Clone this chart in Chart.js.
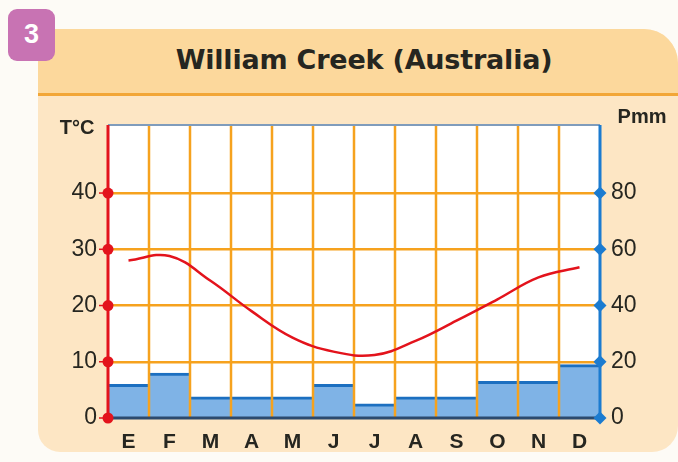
<!DOCTYPE html>
<html><head><meta charset="utf-8">
<script src="https://cdn.jsdelivr.net/npm/chart.js@4"></script>
<style>
html,body{margin:0;padding:0;width:678px;height:462px;overflow:hidden;background:#fdfbf6;font-family:'Liberation Sans',Arial,sans-serif;}
#card{position:absolute;left:38px;top:29px;width:640px;height:423px;background:#fde6c4;border-radius:16px 34px 26px 22px;overflow:hidden;}
#band{position:absolute;left:0;top:0;right:0;height:64px;background:#fcd89c;border-bottom:3px solid #f2a637;}
#title{position:absolute;left:38px;width:652px;top:44px;text-align:center;font-family:'DejaVu Sans',sans-serif;font-weight:bold;font-size:27px;color:#262620;letter-spacing:-0.2px;}
#badge{position:absolute;left:8px;top:9px;width:47px;height:52px;background:#c873b3;border-radius:9px;color:#fff;font-weight:bold;font-size:27px;text-align:center;line-height:50px;}
#c{position:absolute;left:0;top:0;}
</style></head>
<body>
<div id="card"><div id="band"></div></div>
<div id="title">William Creek (Australia)</div>
<div id="badge">3</div>
<canvas id="c" width="678" height="462"></canvas>
<script>
const months = ['E','F','M','A','M','J','J','A','S','O','N','D'];
const temperature = [28, 28.8, 24.4, 19, 14.3, 11.8, 11.2, 13.7, 17.3, 21.1, 25, 26.8];
const precipitation = [12, 16, 7.5, 7.5, 7.5, 12, 5, 7.5, 7.5, 13, 13, 19];
const tempTicks = [0, 10, 20, 30, 40];
const precipTicks = [0, 20, 40, 60, 80];
const tempMax = 52.1;
const precipMax = 104.2;

const ORANGE = '#f6a21e';
const RED = '#e3131c';
const BLUE = '#1b7bd0';
const tickFont = {family: "'Liberation Sans', Arial, sans-serif", size: 23};

const framePlugin = {
  id: 'frame',
  beforeDraw(chart) {
    const ctx = chart.ctx, a = chart.chartArea;
    ctx.save();
    ctx.fillStyle = '#ffffff';
    ctx.fillRect(a.left, a.top, a.right - a.left, a.bottom - a.top);
    ctx.restore();
  },
  afterDatasetDraw(chart, args) {
    if (args.index !== 0) return;
    const ctx = chart.ctx, a = chart.chartArea, xs = chart.scales.x;
    ctx.save();
    ctx.strokeStyle = ORANGE;
    ctx.lineWidth = 2.5;
    for (let i = 1; i < months.length; i++) {
      const x = (xs.getPixelForValue(i - 1) + xs.getPixelForValue(i)) / 2;
      ctx.beginPath(); ctx.moveTo(x, a.top); ctx.lineTo(x, a.bottom); ctx.stroke();
    }
    ctx.restore();
  },
  afterDraw(chart) {
    const ctx = chart.ctx, a = chart.chartArea;
    const yT = chart.scales.y, yP = chart.scales.y1;
    ctx.save();
    ctx.strokeStyle = '#7f9cbc'; ctx.lineWidth = 2;
    ctx.beginPath(); ctx.moveTo(a.left, a.top); ctx.lineTo(a.right, a.top); ctx.stroke();
    ctx.strokeStyle = '#2c4a6e'; ctx.lineWidth = 3;
    ctx.beginPath(); ctx.moveTo(a.left, a.bottom); ctx.lineTo(a.right, a.bottom); ctx.stroke();
    ctx.strokeStyle = RED; ctx.lineWidth = 3;
    ctx.beginPath(); ctx.moveTo(a.left, a.top); ctx.lineTo(a.left, a.bottom); ctx.stroke();
    ctx.strokeStyle = BLUE;
    ctx.beginPath(); ctx.moveTo(a.right, a.top); ctx.lineTo(a.right, a.bottom); ctx.stroke();
    ctx.fillStyle = RED;
    ctx.strokeStyle = RED; ctx.lineWidth = 1.5;
    tempTicks.forEach(v => {
      const y = yT.getPixelForValue(v);
      ctx.beginPath(); ctx.moveTo(a.left - 9, y); ctx.lineTo(a.left, y); ctx.stroke();
      ctx.beginPath(); ctx.arc(a.left, y, 5.5, 0, Math.PI * 2); ctx.fill();
    });
    ctx.fillStyle = BLUE;
    precipTicks.forEach(v => {
      const y = yP.getPixelForValue(v);
      ctx.beginPath();
      ctx.moveTo(a.right, y - 6.5); ctx.lineTo(a.right + 6.5, y);
      ctx.lineTo(a.right, y + 6.5); ctx.lineTo(a.right - 6.5, y); ctx.closePath(); ctx.fill();
    });
    ctx.fillStyle = '#262620';
    ctx.font = "bold 20px 'Liberation Sans', Arial, sans-serif";
    ctx.textBaseline = 'middle';
    ctx.textAlign = 'center';
    ctx.fillText('T°C', 77, 128);
    ctx.fillText('Pmm', 642, 117);
    ctx.restore();
  }
};

new Chart(document.getElementById('c'), {
  data: {
    labels: months,
    datasets: [
      {
        type: 'bar', label: 'P', data: precipitation, yAxisID: 'y1', order: 2,
        backgroundColor: '#7fb3e6', borderColor: '#1c6fc0',
        borderWidth: {top: 3, left: 0, right: 0, bottom: 0}, borderSkipped: false,
        barPercentage: 1, categoryPercentage: 1
      },
      {
        type: 'line', label: 'T', data: temperature, yAxisID: 'y', order: 1,
        borderColor: RED, borderWidth: 2.5, pointRadius: 0, tension: 0.4, fill: false
      }
    ]
  },
  options: {
    responsive: false,
    animation: false,
    events: [],
    layout: {padding: {top: 125, left: 0, right: 0, bottom: 0}},
    plugins: {legend: {display: false}, tooltip: {enabled: false}},
    scales: {
      x: {
        offset: true,
        grid: {display: false},
        border: {display: false},
        ticks: {color: '#262620', font: {family: "'Liberation Sans', Arial, sans-serif", size: 21, weight: 'bold'}, padding: 4, maxRotation: 0},
        afterFit(s) { s.height = 44; }
      },
      y: {
        position: 'left', min: 0, max: tempMax,
        afterBuildTicks(s) { s.ticks = tempTicks.map(v => ({value: v})); },
        grid: {color: ctx => ctx.tick && ctx.tick.value === 0 ? 'rgba(0,0,0,0)' : ORANGE, lineWidth: 2.5, drawTicks: false},
        border: {display: false},
        ticks: {color: '#262620', font: tickFont, padding: 11},
        afterFit(s) { s.width = 108; }
      },
      y1: {
        position: 'right', min: 0, max: precipMax,
        afterBuildTicks(s) { s.ticks = precipTicks.map(v => ({value: v})); },
        grid: {display: false, drawTicks: false},
        border: {display: false},
        ticks: {color: '#262620', font: tickFont, padding: 11},
        afterFit(s) { s.width = 78; }
      }
    }
  },
  plugins: [framePlugin]
});
</script>
</body></html>
